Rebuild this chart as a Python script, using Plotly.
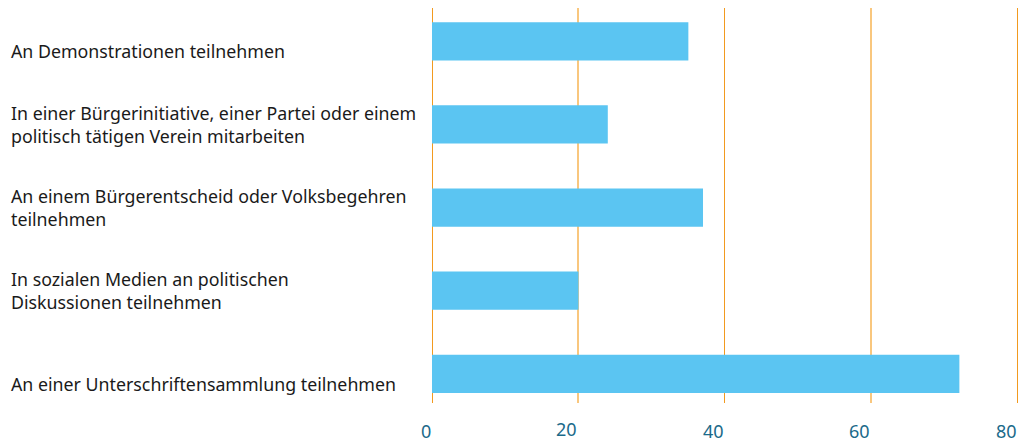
import plotly.graph_objects as go

categories = [
    "An Demonstrationen teilnehmen",
    "In einer Bürgerinitiative, einer Partei oder einem<br>politisch tätigen Verein mitarbeiten",
    "An einem Bürgerentscheid oder Volksbegehren<br>teilnehmen",
    "In sozialen Medien an politischen<br>Diskussionen teilnehmen",
    "An einer Unterschriftensammlung teilnehmen",
]
values = [35, 24, 37, 20, 72]
tick_vals = [0, 20, 40, 60, 80]
tick_text = ["0", "20", "40", "60", "80"]

BAR = "#5BC5F2"
GRID_DARK = "#F29A1F"
GRID_LIGHT = "#F9C77E"
TICK_COLOR = "#1B6A8A"
FONT = "Noto Sans"

idx = list(range(len(categories)))

fig = go.Figure(go.Bar(
    x=values, y=idx, orientation="h",
    marker=dict(color=BAR, line=dict(width=0)),
    width=0.46,
))

annotations = []
for i, c in zip(idx, categories):
    annotations.append(dict(
        x=-0.7207, xref="paper", y=i, yref="y", text=c, showarrow=False,
        xanchor="left", align="left", yanchor="middle",
        yshift=0 if "<br>" in c else -10,
        font=dict(family=FONT, size=17.8, color="#1a1a1a"),
    ))

# x tick labels, right-aligned to their gridlines as in the reference
for v, t in zip(tick_vals, tick_text):
    annotations.append(dict(
        x=v, xref="x", y=0, yref="paper", text=t, showarrow=False,
        xanchor="right", yanchor="middle", xshift=1,
        yshift=-28 if v != 20 else -26,
        font=dict(family=FONT, size=18, color=TICK_COLOR),
    ))

fig.update_layout(
    width=1030, height=441,
    margin=dict(l=424, r=19, t=0, b=46),
    paper_bgcolor="white", plot_bgcolor="white",
    showlegend=False,
    annotations=annotations,
    xaxis=dict(range=[0, 80.14], tickvals=tick_vals[::2], showticklabels=False,
               showgrid=True, gridcolor=GRID_DARK, gridwidth=1,
               zeroline=True, zerolinecolor=GRID_DARK, zerolinewidth=1,
               showline=False, ticks="",
               minor=dict(tickvals=tick_vals[1::2], showgrid=True,
                          gridcolor=GRID_LIGHT, gridwidth=2, ticks="")),
    yaxis=dict(range=[4.35, -0.4], showticklabels=False, showgrid=False,
               zeroline=False, showline=False, ticks=""),
)

fig.write_html("out.html")
